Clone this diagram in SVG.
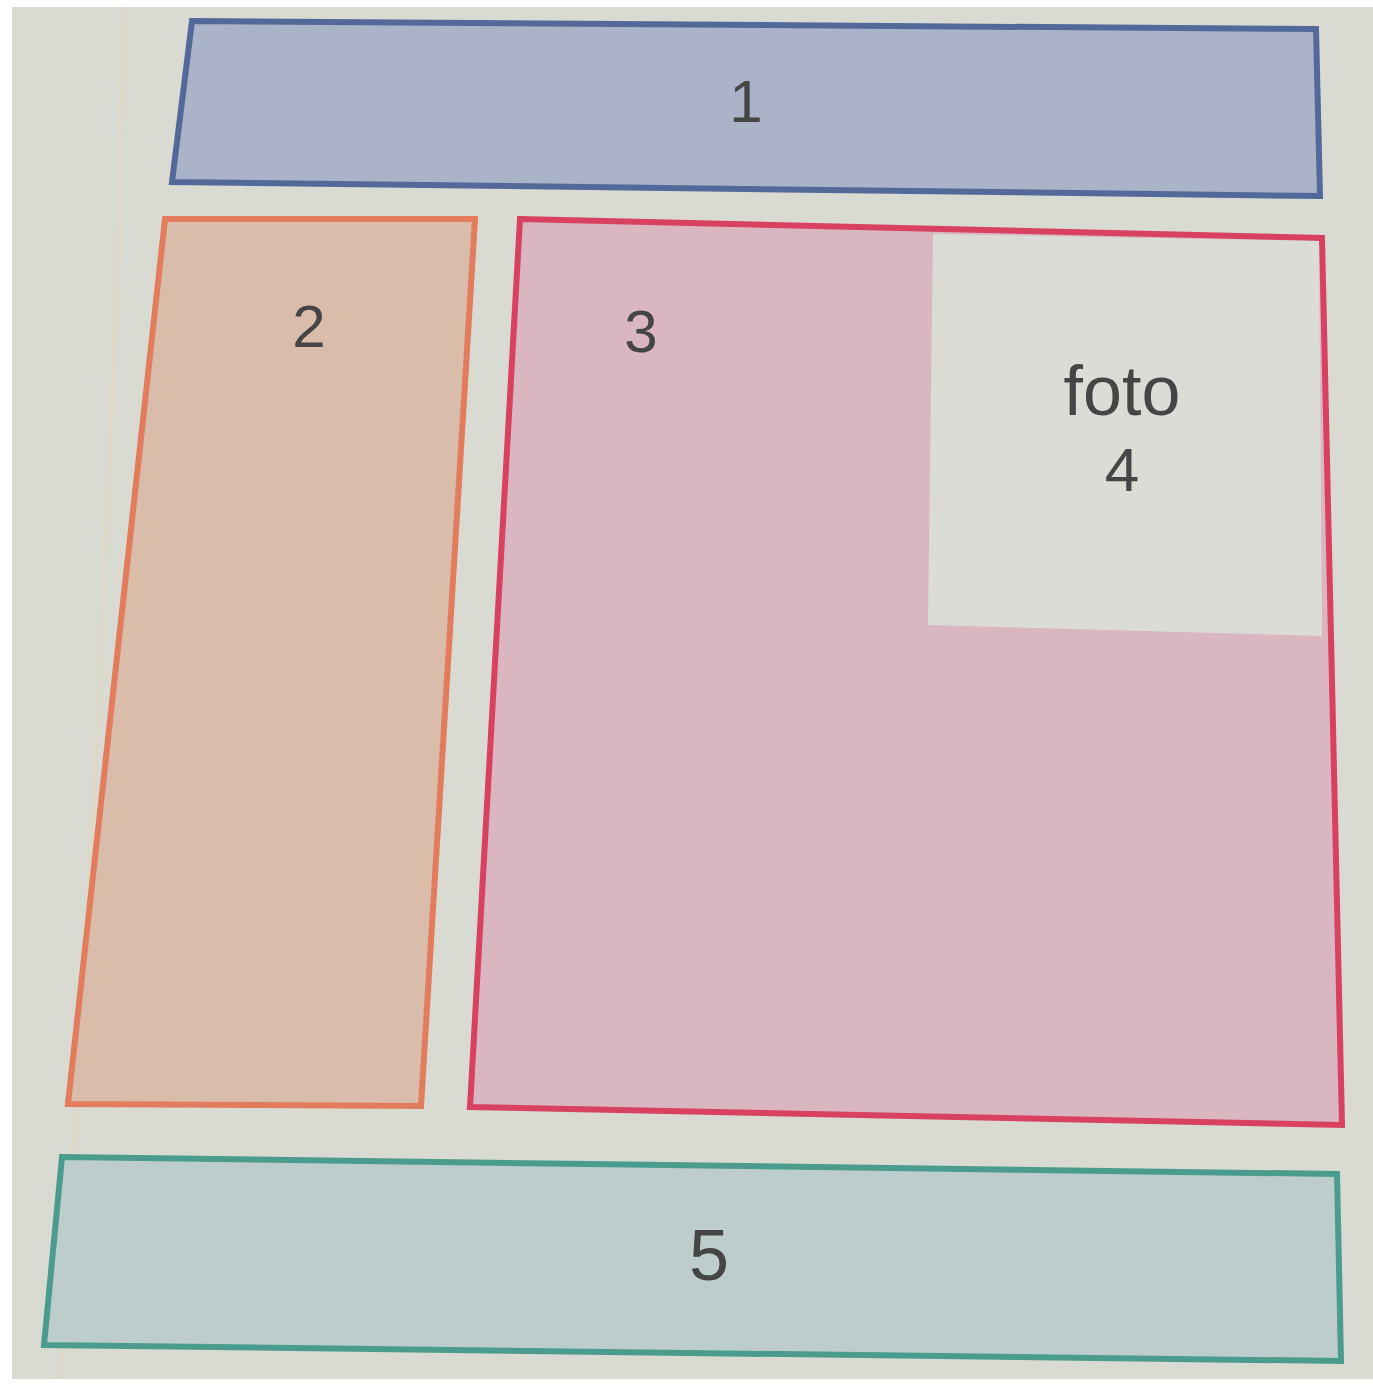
<svg xmlns="http://www.w3.org/2000/svg" width="1373" height="1385" viewBox="0 0 1373 1385">
<style>
.lbl{font-family:"Liberation Sans",Arial,sans-serif;fill:#454545;text-anchor:middle}
.box{stroke-width:6;stroke-linejoin:miter}
</style>
<rect width="1373" height="1385" fill="#ffffff"/>
<rect x="12" y="7" width="1361" height="1372" fill="#d9dbd3"/>
<path d="M125 7 Q110 600 60 1379" fill="none" stroke="#e0d6c2" stroke-width="5" opacity="0.6"/>
<g id="node1">
<polygon class="box" points="192,21 1316,29 1320,196 172,182" fill="#aab3c8" stroke="#52699a"/>
<text class="lbl" x="746" y="122" font-size="60">1</text>
</g>
<g id="node2">
<polygon class="box" points="165,219 475,219 421,1106 68,1104" fill="#dabcab" stroke="#e27c5c"/>
<text class="lbl" x="309" y="347" font-size="60">2</text>
</g>
<g id="node3">
<polygon class="box" points="520,219 1322,238 1342,1125 470,1107" fill="#d9b6c0" stroke="#d8415f"/>
<text class="lbl" x="641" y="352" font-size="60">3</text>
</g>
<g id="node4">
<polygon points="933,234 1319,241 1322,636 928,625" fill="#dcdcd7"/>
<text class="lbl" x="1122" y="415" font-size="70">foto</text>
<text class="lbl" x="1122" y="491" font-size="62">4</text>
</g>
<g id="node5">
<polygon class="box" points="62,1157 1337,1174 1341,1361 44,1345" fill="#bdcdcc" stroke="#4c9c8d" stroke-width="5"/>
<text class="lbl" x="709" y="1280" font-size="72">5</text>
</g>
<g id="connectors"></g>
</svg>
